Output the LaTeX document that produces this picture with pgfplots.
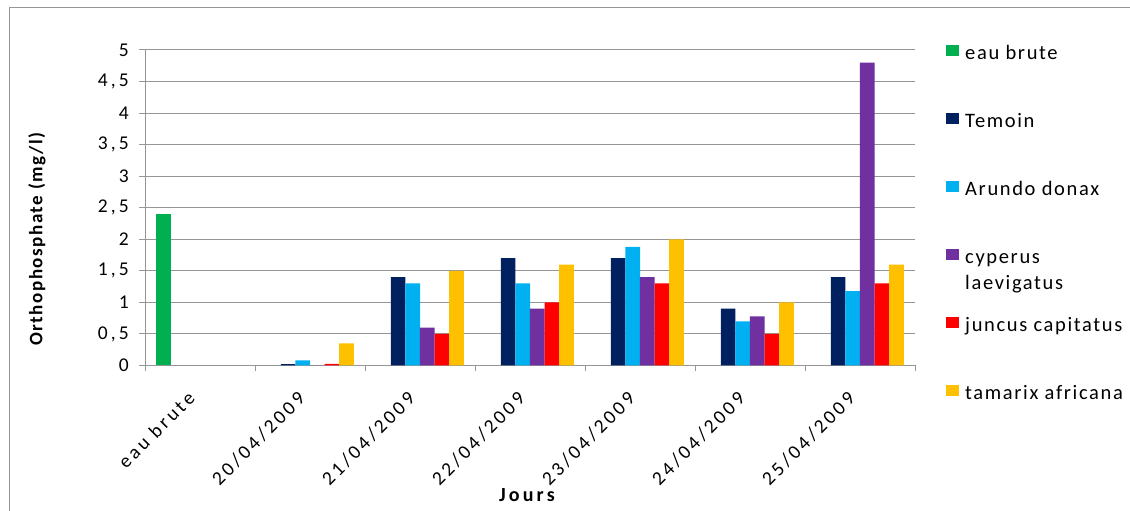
\documentclass[border=0pt]{standalone}
\usepackage{fontspec}
\setmainfont{Carlito}[LetterSpace=8]
\newfontfamily\tickfont{Carlito}[LetterSpace=16]
\usepackage{pgfplots}
\pgfplotsset{compat=1.18}
\definecolor{cEau}{RGB}{0,176,80}
\definecolor{cTem}{RGB}{0,32,96}
\definecolor{cAru}{RGB}{0,176,240}
\definecolor{cCyp}{RGB}{112,48,160}
\definecolor{cJun}{RGB}{255,0,0}
\definecolor{cTam}{RGB}{255,192,0}
\definecolor{axgray}{RGB}{150,150,150}
\begin{document}
\begin{tikzpicture}[x=1pt,y=1pt]
\useasboundingbox (0,0) rectangle (1130,511);
\draw[axgray, line width=1pt] (9.5,-20) rectangle (1150,503);
\begin{axis}[
  at={(145pt,145.5pt)}, anchor=south west,
  width=770pt, height=315.5pt, scale only axis,
  xmin=-0.5, xmax=6.5, ymin=0, ymax=5,
  axis lines*=left,
  axis line style={axgray, line width=1pt},
  ymajorgrids, grid style={axgray, line width=1pt},
  ytick={0,0.5,...,5},
  xtick={0,1,2,3,4,5,6},
  xticklabels={eau brute,20/04/2009,21/04/2009,22/04/2009,23/04/2009,24/04/2009,25/04/2009},
  minor xtick={-0.5,0.5,1.5,2.5,3.5,4.5,5.5,6.5},
  major x tick style={draw=none},
  minor x tick style={axgray, line width=1pt},
  ytick style={axgray, line width=1pt},
  tick align=outside,
  major tick length=6pt, minor tick length=6pt,
  /pgf/number format/assume math mode=true,
  /pgf/number format/use comma,
  /pgf/number format/1000 sep={},
  tick label style={font=\tickfont\fontsize{19.5}{23}\selectfont, black},
  yticklabel style={inner sep=0pt, xshift=-10pt},
  xticklabel style={rotate=45, anchor=north east, inner sep=0pt, xshift=-22.7pt, yshift=-3.5pt},
  ylabel={Orthophosphate (mg/l)},
  ylabel style={at={(axis description cs:-0.1403,0.40)}, anchor=center, rotate=0, font=\fontsize{19}{23}\selectfont\bfseries},
  xlabel={Jours},
  xlabel style={at={(axis description cs:0.496,-0.41)}, anchor=center, font=\tickfont\fontsize{20}{23}\selectfont\bfseries},
  legend style={draw=none, fill=none, inner sep=0pt, at={(axis description cs:1.0403,1.017)}, anchor=north west,
    font=\fontsize{20.5}{28}\selectfont, row sep=48pt, column sep=6pt,
    nodes={inner sep=0pt, text height=14pt, text depth=5pt}},
  legend cell align=left,
  legend image code/.code={\fill[#1, draw=none] (0pt,-0.5pt) rectangle (13pt,10.5pt);},
]
\addplot[ybar, bar width=0.1327, bar shift=-0.332, fill=cEau, draw=none] coordinates {(0,2.4)};
\addplot[ybar, bar width=0.1327, bar shift=-0.199, fill=cTem, draw=none] coordinates {(1,0.02) (2,1.4) (3,1.7) (4,1.7) (5,0.9) (6,1.4)};
\addplot[ybar, bar width=0.1327, bar shift=-0.066, fill=cAru, draw=none] coordinates {(1,0.08) (2,1.3) (3,1.3) (4,1.88) (5,0.7) (6,1.18)};
\addplot[ybar, bar width=0.1327, bar shift=0.066, fill=cCyp, draw=none] coordinates {(1,0) (2,0.6) (3,0.9) (4,1.4) (5,0.78) (6,4.8)};
\addplot[ybar, bar width=0.1327, bar shift=0.199, fill=cJun, draw=none] coordinates {(1,0.025) (2,0.5) (3,1.0) (4,1.3) (5,0.5) (6,1.3)};
\addplot[ybar, bar width=0.1327, bar shift=0.332, fill=cTam, draw=none] coordinates {(1,0.35) (2,1.5) (3,1.6) (4,2.0) (5,1.0) (6,1.6)};
\legend{eau brute,Temoin,Arundo donax,{\raisebox{0pt}[\height][0pt]{\begin{tabular}[t]{@{}l@{}}cyperus\\[-2pt]laevigatus\end{tabular}}},juncus capitatus,tamarix africana}
\end{axis}
\end{tikzpicture}
\end{document}
